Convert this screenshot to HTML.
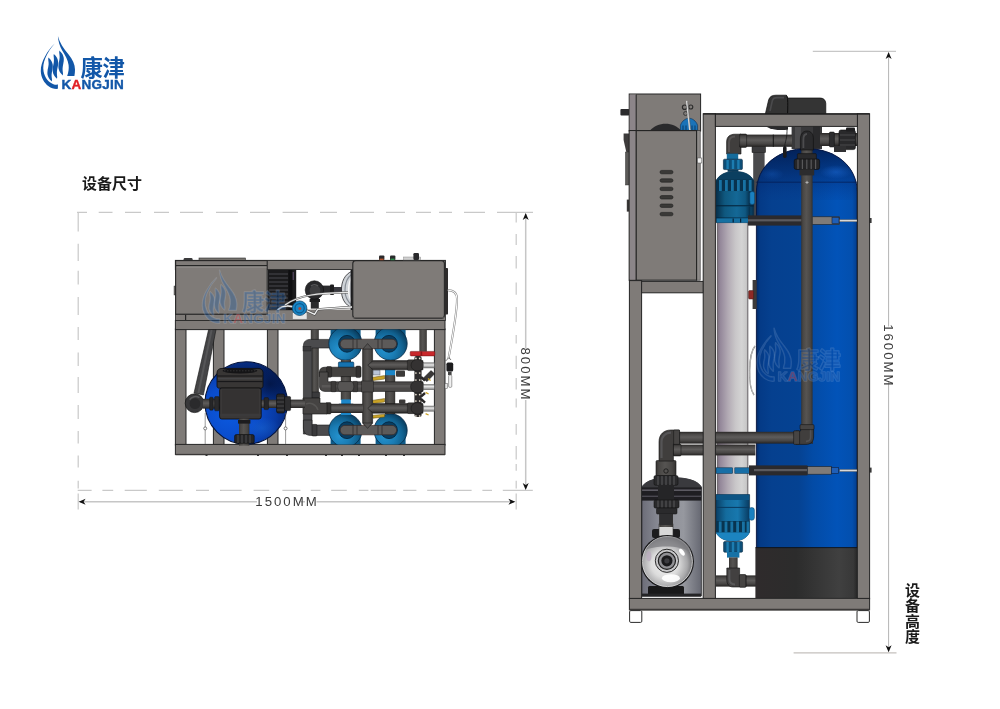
<!DOCTYPE html>
<html lang="zh-CN">
<head>
<meta charset="utf-8">
<title>康津 KANGJIN 设备尺寸</title>
<style>
html,body{margin:0;padding:0;background:#fff;}
body{width:1000px;height:709px;position:relative;overflow:hidden;font-family:"Liberation Sans","Noto Sans CJK SC",sans-serif;}
#stage{position:absolute;left:0;top:0;width:1000px;height:709px;display:block;will-change:transform;-webkit-font-smoothing:antialiased;}
.t{font-family:"Liberation Sans","Noto Sans CJK SC",sans-serif;}
.cjk{font-family:"Liberation Sans","Noto Sans CJK SC",sans-serif;font-weight:700;}
</style>
</head>
<body>
<svg id="stage" width="1000" height="709" viewBox="0 0 1000 709">
<defs>
<linearGradient id="gTank" x1="0" y1="0" x2="1" y2="0">
  <stop offset="0" stop-color="#032a66"/>
  <stop offset="0.035" stop-color="#043a86"/>
  <stop offset="0.15" stop-color="#05408f"/>
  <stop offset="0.42" stop-color="#054292"/>
  <stop offset="0.56" stop-color="#034ba6"/>
  <stop offset="0.8" stop-color="#0253b8"/>
  <stop offset="0.95" stop-color="#034fae"/>
  <stop offset="1" stop-color="#033c8a"/>
</linearGradient>
<linearGradient id="gTankDome" x1="0" y1="0" x2="0" y2="1">
  <stop offset="0" stop-color="#021848" stop-opacity="0.8"/>
  <stop offset="0.4" stop-color="#03225e" stop-opacity="0.55"/>
  <stop offset="0.75" stop-color="#042c78" stop-opacity="0.3"/>
  <stop offset="1" stop-color="#05388c" stop-opacity="0.12"/>
</linearGradient>
<linearGradient id="gTankBot" x1="0" y1="0" x2="1" y2="0">
  <stop offset="0" stop-color="#2f2b2c"/>
  <stop offset="0.4" stop-color="#2c2c2c"/>
  <stop offset="0.82" stop-color="#404040"/>
  <stop offset="0.96" stop-color="#383838"/>
  <stop offset="1" stop-color="#262626"/>
</linearGradient>
<linearGradient id="gPipeH" x1="0" y1="0" x2="0" y2="1">
  <stop offset="0" stop-color="#2a2827"/>
  <stop offset="0.2" stop-color="#4a4847"/>
  <stop offset="0.45" stop-color="#5e5c5b"/>
  <stop offset="0.75" stop-color="#484645"/>
  <stop offset="1" stop-color="#242221"/>
</linearGradient>
<linearGradient id="gPipeV" x1="0" y1="0" x2="1" y2="0">
  <stop offset="0" stop-color="#363432"/>
  <stop offset="0.15" stop-color="#484644"/>
  <stop offset="0.45" stop-color="#565452"/>
  <stop offset="0.8" stop-color="#484644"/>
  <stop offset="1" stop-color="#33312f"/>
</linearGradient>
<linearGradient id="gTube" x1="0" y1="0" x2="1" y2="0">
  <stop offset="0" stop-color="#7c707e"/>
  <stop offset="0.1" stop-color="#94889a"/>
  <stop offset="0.35" stop-color="#b2aab4"/>
  <stop offset="0.6" stop-color="#c9c7c9"/>
  <stop offset="0.8" stop-color="#d4d4d4"/>
  <stop offset="0.95" stop-color="#c8c8c8"/>
  <stop offset="1" stop-color="#989898"/>
</linearGradient>
<linearGradient id="gCap" x1="0" y1="0" x2="1" y2="0">
  <stop offset="0" stop-color="#07304c"/>
  <stop offset="0.25" stop-color="#0f587f"/>
  <stop offset="0.6" stop-color="#146896"/>
  <stop offset="0.85" stop-color="#0f5882"/>
  <stop offset="1" stop-color="#062c48"/>
</linearGradient>
<linearGradient id="gCapL" x1="0" y1="0" x2="1" y2="0">
  <stop offset="0" stop-color="#093e64"/>
  <stop offset="0.3" stop-color="#146c9e"/>
  <stop offset="0.65" stop-color="#1878ae"/>
  <stop offset="1" stop-color="#083a60"/>
</linearGradient>
<linearGradient id="gPumpTank" x1="0" y1="0" x2="1" y2="0">
  <stop offset="0" stop-color="#6c6d78"/>
  <stop offset="0.3" stop-color="#8a8c96"/>
  <stop offset="0.7" stop-color="#96989f"/>
  <stop offset="1" stop-color="#666872"/>
</linearGradient>
<radialGradient id="gChrome" cx="0.45" cy="0.55" r="0.6">
  <stop offset="0" stop-color="#f4f4f4"/>
  <stop offset="0.45" stop-color="#dcdcdc"/>
  <stop offset="0.75" stop-color="#a8a8aa"/>
  <stop offset="1" stop-color="#5a5a5e"/>
</radialGradient>
<radialGradient id="gSphere" cx="0.3" cy="0.62" r="0.8">
  <stop offset="0" stop-color="#0c5ae0"/>
  <stop offset="0.4" stop-color="#0a4ccc"/>
  <stop offset="0.7" stop-color="#083aa4"/>
  <stop offset="1" stop-color="#041e60"/>
</radialGradient>
<radialGradient id="gBlueCyl" cx="0.5" cy="0.5" r="0.6">
  <stop offset="0" stop-color="#2090d0"/>
  <stop offset="0.6" stop-color="#1a7cba"/>
  <stop offset="1" stop-color="#0a4a78"/>
</radialGradient>
<radialGradient id="gSpot" cx="0.5" cy="0.5" r="0.5">
  <stop offset="0" stop-color="#1a66d0" stop-opacity="0.55"/>
  <stop offset="1" stop-color="#1a66d0" stop-opacity="0"/>
</radialGradient>
<radialGradient id="gBlueDisc" cx="0.32" cy="0.68" r="0.8">
  <stop offset="0" stop-color="#2492ce"/>
  <stop offset="0.4" stop-color="#1a7cb4"/>
  <stop offset="0.7" stop-color="#11608e"/>
  <stop offset="1" stop-color="#063250"/>
</radialGradient>
<linearGradient id="gSilver" x1="0" y1="0" x2="0" y2="1">
  <stop offset="0" stop-color="#8a8a8a"/>
  <stop offset="0.4" stop-color="#e6e6e6"/>
  <stop offset="1" stop-color="#7a7a7a"/>
</linearGradient>
<linearGradient id="gBlack" x1="0" y1="0" x2="0" y2="1">
  <stop offset="0" stop-color="#3a3a3c"/>
  <stop offset="0.5" stop-color="#2a2a2c"/>
  <stop offset="1" stop-color="#1c1c1e"/>
</linearGradient>
<clipPath id="clipA"><rect x="170" y="329.6" width="290" height="114.8"/></clipPath>
<radialGradient id="gShade" cx="0.5" cy="0.5" r="0.5">
  <stop offset="0" stop-color="#02123c" stop-opacity="0.85"/>
  <stop offset="0.6" stop-color="#02123c" stop-opacity="0.45"/>
  <stop offset="1" stop-color="#02123c" stop-opacity="0"/>
</radialGradient>
<clipPath id="clipSph"><circle cx="246.2" cy="403" r="41"/></clipPath>
</defs>
<rect x="0" y="0" width="1000" height="709" fill="#ffffff"/>
<g id="logo">
<g fill="#1257a8">
<path d="M57.9 36C59.4 42.5 63.6 48.6 68.6 54.6C72.6 59.6 75 64.6 75 69.6C75 72 74.8 74 74.4 76H67.2C68.6 72 69 68.6 68.6 65C68 59.6 65 55 62.2 50.4C59.6 46 58.2 41 57.9 36Z"/>
<path d="M54.8 43.6C51 47.6 47.6 52.6 45.2 58.6C43.4 63 42.8 67.4 43.6 71.6C44.8 77.6 48.4 82.4 53.4 84.2C54.8 84.7 56.4 84.8 57.9 84.6V88.8C54.6 89.2 51.4 88.2 48.6 86.2C44 82.8 41 77.4 40.8 71.2C40.6 66 42.4 61 45 56.4C47.6 51.6 51 47.2 54.8 43.6Z"/>
<path d="M48.4 57.6L48.2 59.3L48.4 61.0L48.6 62.7L48.6 64.4L48.4 66.1L48.1 67.8L47.7 69.5L47.5 71.2L47.4 72.9L47.5 74.6L48.0 76.3L48.8 78.0L50.0 79.7L51.8 81.4L51.8 81.4L52.0 79.7L51.8 78.0L51.6 76.3L51.6 74.6L51.8 72.9L52.1 71.2L52.4 69.5L52.7 67.8L52.8 66.1L52.7 64.4L52.2 62.7L51.4 61.0L50.2 59.3L48.4 57.6Z"/>
<path d="M53.8 54.0L53.6 55.8L53.8 57.5L53.9 59.3L53.9 61.1L53.7 62.9L53.4 64.6L53.0 66.4L52.7 68.2L52.6 69.9L52.8 71.7L53.2 73.5L54.0 75.3L55.2 77.0L57.0 78.8L57.0 78.8L57.2 77.0L57.0 75.3L56.9 73.5L56.9 71.7L57.1 69.9L57.4 68.2L57.8 66.4L58.1 64.6L58.2 62.9L58.0 61.1L57.6 59.3L56.8 57.5L55.6 55.8L53.8 54.0Z"/>
<path d="M59.4 50.6L59.2 52.4L59.4 54.1L59.6 55.9L59.6 57.7L59.4 59.5L59.1 61.2L58.7 63.0L58.5 64.8L58.4 66.5L58.5 68.3L59.0 70.1L59.8 71.9L61.0 73.6L62.8 75.4L62.8 75.4L63.0 73.6L62.8 71.9L62.6 70.1L62.6 68.3L62.8 66.5L63.1 64.8L63.4 63.0L63.7 61.2L63.8 59.5L63.7 57.7L63.2 55.9L62.4 54.1L61.2 52.4L59.4 50.6Z"/>
</g>
<text class="cjk" x="80.4" y="75.6" font-size="22.4" fill="#1257a8" letter-spacing="-0.4">康津</text>
<text x="61.6" y="88.9" font-size="13.5" font-weight="700" fill="#1257a8" stroke="#1257a8" stroke-width="0.4" letter-spacing="0.25" font-family="'Liberation Sans','Noto Sans CJK SC',sans-serif">K<tspan fill="#e01f26" stroke="#e01f26">A</tspan>NGJIN</text>
</g>
<text class="cjk" x="82" y="189" font-size="15" fill="#1a1a1a">设备尺寸</text>
<text class="cjk" x="911.5" y="582.6" font-size="15" letter-spacing="0.5" fill="#1a1a1a" style="writing-mode:vertical-rl;text-orientation:upright">设备高度</text>
<g id="dims">
<path d="M77 212.3H87M98.7 212.3H112.5M125 212.3H141M154 212.3H169M180 212.3H203M216 212.3H238M250 212.3H270M282.6 212.3H308M320 212.3H337M350 212.3H374M386 212.3H405M416 212.3H431M439 212.3H452M464 212.3H485M497 212.3H533M77.7 490.4H91.6M102.4 490.4H113.2M124.7 490.4H146.8M158.8 490.4H182.8M196 490.4H209M220 490.4H241.6M253.6 490.4H269.2M282.4 490.4H300.4M310.8 490.4H320.4M331.2 490.4H346.8M358.8 490.4H368.4M370.8 490.4H396M403.2 490.4H416.4M427.2 490.4H445.2M453.6 490.4H471.6M482.4 490.4H492M502.8 490.4H532.8M78.2 212V231.6M78.2 243.8V261M78.2 270.8V284.4M78.2 297V315M78.2 327V340M78.2 352.5V366M78.2 377V393M78.2 405V419M78.2 431V443.6M78.2 455.6V467.6M78.2 480.7V488.6M78.2 493.4V509.4M516.2 212V222.6M516.2 234V245M516.2 256V268.6M516.2 282.6V294.8M516.2 307V322M516.2 335V343.5M516.2 355.7V369M516.2 378V389.5M516.2 398.6V407.6M516.2 424V434.7M516.2 446V459.5M516.2 464V470.8M516.2 480.7V488.6M516.2 493.4V509.4" fill="none" stroke="#c9c9c9" stroke-width="1.2"/>
<path d="M80 501.8H257M299 501.8H305M316.5 501.8H514" fill="none" stroke="#c6c6c6" stroke-width="1.5"/>
<path d="M525.7 214V348.5M525.7 400V488" fill="none" stroke="#c6c6c6" stroke-width="1.5"/>
<path d="M888.6 53V326.5M888.6 381V651" fill="none" stroke="#b4b4b4" stroke-width="1"/>
<path d="M812.8 51.3H896" fill="none" stroke="#b9b9b9" stroke-width="1"/>
<path d="M793.6 652.8H896.5" fill="none" stroke="#c4c0bd" stroke-width="1.3"/>
<polygon points="78.6,501.8 85.6,498.8 83.6,501.8 85.6,504.8" fill="#111"/>
<polygon points="515.4,501.8 508.4,498.8 510.4,501.8 508.4,504.8" fill="#111"/>
<polygon points="525.7,213.0 528.7,220.0 525.7,218.0 522.7,220.0" fill="#111"/>
<polygon points="525.7,490.0 528.7,483.0 525.7,485.0 522.7,483.0" fill="#111"/>
<polygon points="888.6,52.0 891.6,59.0 888.6,57.0 885.6,59.0" fill="#111"/>
<polygon points="888.6,652.3 891.6,645.3 888.6,647.3 885.6,645.3" fill="#111"/>
<text class="t" x="287" y="505.8" font-size="13.2" letter-spacing="2" text-anchor="middle" fill="#3c3c3c">1500MM</text>
<text class="t" transform="translate(521.3 374.5) rotate(90)" font-size="13.2" letter-spacing="2" text-anchor="middle" fill="#3c3c3c">800MM</text>
<text class="t" transform="translate(884.2 355.8) rotate(90)" font-size="13.2" letter-spacing="2" text-anchor="middle" fill="#3c3c3c">1600MM</text>
</g>
<g id="equipA">
<g fill="#7f7b78" stroke="#262626" stroke-width="1">
<rect x="175.4" y="329" width="10.6" height="116"/>
<rect x="213.4" y="329" width="10.6" height="116"/>
<rect x="267.4" y="329" width="10.6" height="116"/>
<rect x="434.4" y="329" width="10.6" height="116"/>
<rect x="175.4" y="320.4" width="269.6" height="9.2"/>
<rect x="175.4" y="444.4" width="269.6" height="10"/>
</g>
<path d="M175.4 454.6H445" stroke="#3a3837" stroke-width="1.4" fill="none"/>
<path d="M205.5 455.4h2M257 455.4h2M286 455.4h2M325 455.4h2M341 455.4h2M358 455.4h2M385 455.4h2M403 455.4h2" stroke="#333" stroke-width="1.4" fill="none"/>
<rect x="175.4" y="260.4" width="270" height="9.2" fill="#7f7b78" stroke="#262626" stroke-width="1"/>
<rect x="175.4" y="314" width="270" height="6.4" fill="#7f7b78" stroke="#262626" stroke-width="0.8"/>
<rect x="185" y="314.6" width="1.2" height="5.4" fill="#262626"/>
<rect x="296" y="270" width="56" height="40" fill="#ffffff"/>
<rect x="267.4" y="309.6" width="86" height="9.6" fill="#7f7b78"/>
<rect x="267.6" y="269.8" width="28.6" height="40.4" fill="#1b1b1d"/>
<path d="M269 274H288M269 278H288M269 282H288M269 286H288M269 290H288M269 294H288M269 298H288M269 302H288M269 306H288" stroke="#3a3a3e" stroke-width="1.4" fill="none"/>
<rect x="288.4" y="270" width="4" height="40" fill="#0f0f11"/>
<rect x="292.6" y="272" width="1.4" height="8" fill="#4a3f55"/>
<path d="M352.6 271C344.5 274 341.4 282 341.4 290C341.4 298 344.5 305 352.6 308Z" fill="#cfd3d8" stroke="#2a2a2c" stroke-width="0.8"/>
<path d="M352 274C346.5 278 345 284 345 290C345 296 346.5 301 352 305" fill="none" stroke="#8a9098" stroke-width="1.2"/>
<path d="M352.6 276C349.6 280 348.6 285 348.6 290C348.6 295 349.6 299 352.6 303" fill="none" stroke="#f4f4f4" stroke-width="1.4"/>
<rect x="350.6" y="270" width="2.6" height="40" fill="#1c1c1e"/>
<rect x="322" y="285.6" width="12" height="8.4" fill="#2b2b2d"/>
<rect x="330" y="284.6" width="4" height="10.4" rx="1" fill="#1d1d1f"/>
<rect x="334" y="287" width="8" height="6" fill="#3a3a40"/>
<rect x="310.8" y="296" width="8" height="12.6" fill="#2b2b2d"/>
<rect x="309.6" y="299" width="10.4" height="3" fill="#1f1f21"/>
<circle cx="314.4" cy="290" r="9.2" fill="#29292b" stroke="#0e0e0e" stroke-width="0.6"/>
<circle cx="315" cy="290.6" r="5.4" fill="#3e3e40"/>
<path d="M311 286C313 284 316 284 318 286" fill="none" stroke="#58585a" stroke-width="1.2"/>
<path d="M278 309.6C284 304 294 306.4 299.6 308.6" fill="none" stroke="#555" stroke-width="2.4" stroke-linecap="round"/>
<path d="M278 309.6C284 304 294 306.4 299.6 308.6" fill="none" stroke="#e9e9e9" stroke-width="1.4" stroke-linecap="round"/>
<path d="M285 305C300 294 320 293.4 348 292.4" fill="none" stroke="#555" stroke-width="2.2"/>
<path d="M285 305C300 294 320 293.4 348 292.4" fill="none" stroke="#e6e6e6" stroke-width="1.2"/>
<path d="M306 310.4L314.6 314.4L317.6 309.4L341 307.6L352 307" fill="none" stroke="#444" stroke-width="2.4" stroke-linejoin="round"/>
<path d="M306 310.4L314.6 314.4L317.6 309.4L341 307.6L352 307" fill="none" stroke="#f0f0f0" stroke-width="1.3" stroke-linejoin="round"/>
<rect x="292.6" y="312.6" width="14.4" height="6.6" fill="#e6e6e6" stroke="#777" stroke-width="0.5"/>
<circle cx="299.6" cy="308.2" r="7.3" fill="#1a86c6" stroke="#0a3b60" stroke-width="0.7"/>
<circle cx="299.6" cy="308.2" r="4.6" fill="none" stroke="#0c5a90" stroke-width="1.2"/>
<circle cx="299.8" cy="308.4" r="1.5" fill="#b0483c"/>
<rect x="183.6" y="258" width="9" height="2.6" rx="1.3" fill="#3a3a3c"/>
<rect x="199" y="258" width="46.4" height="2.6" fill="#77746f" stroke="#2a2a2a" stroke-width="0.6"/>
<rect x="174" y="286" width="2" height="9" fill="#6a6866" stroke="#333" stroke-width="0.4"/>
<rect x="175.6" y="260.6" width="91.6" height="53.6" fill="#7f7b78" stroke="#262626" stroke-width="1.1"/>
<path d="M176 265.6H267" stroke="#262626" stroke-width="1.4" fill="none"/>
<path d="M176.6 267H266.6" stroke="#a09d9a" stroke-width="0.8" fill="none"/>
<rect x="444.6" y="268" width="3.4" height="46.6" rx="0.8" fill="#2e2c2c"/>
<rect x="352.8" y="260.6" width="91.6" height="57.6" rx="3" fill="#7f7b78" stroke="#262626" stroke-width="1.1"/>
<path d="M353 317.6H444" stroke="#5a5856" stroke-width="1" fill="none"/>
<rect x="379" y="255.6" width="5.4" height="4.6" rx="1" fill="#2a2a2c"/>
<rect x="379.6" y="258.6" width="4" height="1.6" fill="#b5532c"/>
<rect x="390" y="255.6" width="5.4" height="4.6" rx="1" fill="#2a2a2c"/>
<rect x="390.6" y="258.6" width="4" height="1.6" fill="#2f8f4c"/>
<rect x="403.6" y="257" width="17" height="3" fill="#d0d0d0" stroke="#777" stroke-width="0.4"/>
<rect x="413.4" y="253" width="5.6" height="7" rx="1.2" fill="#2a2a2c"/>
<path d="M447.8 290.2C453 290 457 292.6 457 299C457 313 452 340 448.4 359" fill="none" stroke="#777" stroke-width="2"/>
<path d="M447.8 290.2C453 290 457 292.6 457 299C457 313 452 340 448.4 359" fill="none" stroke="#fafafa" stroke-width="1.1"/>
<path d="M445.6 361L449 357.6L451 360" fill="none" stroke="#444" stroke-width="0.7"/>
<rect x="446.4" y="362.6" width="6.8" height="9" rx="1.6" fill="#1c1c1e"/>
<rect x="448" y="371.6" width="3.6" height="3.4" fill="#444"/>
<rect x="448.6" y="375" width="3.2" height="12.4" rx="1.2" fill="#f0f0f0" stroke="#666" stroke-width="0.6"/>
<rect x="445" y="383.4" width="2.4" height="5" fill="#e8e8e8" stroke="#555" stroke-width="0.5"/>
<rect x="310.8" y="329.6" width="8" height="70" fill="url(#gPipeV)"/>
<rect x="309.8" y="392" width="10" height="6" rx="1" fill="#3a3a3c" stroke="#151515" stroke-width="0.5"/>
<path d="M303.4 434V346C303.4 341.6 306 339.4 310.4 339.4H329.6V348H312V434Z" fill="#4b4b4d" stroke="#1a1a1a" stroke-width="0.6"/>
<rect x="303" y="346.6" width="8" height="4.4" fill="#3a3a3c" stroke="#1a1a1a" stroke-width="0.4"/>
<path d="M303.4 420V428C303.4 432.4 306 435.4 310.4 435.4H330V425H312V420Z" fill="#4b4b4d" stroke="#1a1a1a" stroke-width="0.6"/>
<rect x="312" y="424.4" width="5" height="11.6" rx="1" fill="#3a3a3c" stroke="#151515" stroke-width="0.5"/>
<g clip-path="url(#clipA)">
<rect x="330.6" y="329.6" width="30" height="12" fill="#0e5a88"/>
<rect x="375.6" y="329.6" width="30" height="12" fill="#0e5a88"/>
<rect x="330.6" y="432" width="30" height="12.4" fill="#0e5a88"/>
<rect x="375.6" y="432" width="30" height="12.4" fill="#0e5a88"/>
<circle cx="345.4" cy="343.6" r="16.6" fill="url(#gBlueDisc)" stroke="#062a46" stroke-width="0.8"/>
<circle cx="390.6" cy="343.6" r="16.6" fill="url(#gBlueDisc)" stroke="#062a46" stroke-width="0.8"/>
<circle cx="345.4" cy="430.4" r="16.6" fill="url(#gBlueDisc)" stroke="#062a46" stroke-width="0.8"/>
<circle cx="390.6" cy="430.4" r="16.6" fill="url(#gBlueDisc)" stroke="#062a46" stroke-width="0.8"/>
<circle cx="347" cy="343.8" r="8.4" fill="#093e62" stroke="#052238" stroke-width="0.8"/>
<circle cx="389" cy="343.8" r="8.4" fill="#093e62" stroke="#052238" stroke-width="0.8"/>
<circle cx="347" cy="430.2" r="8.4" fill="#093e62" stroke="#052238" stroke-width="0.8"/>
<circle cx="389" cy="430.2" r="8.4" fill="#093e62" stroke="#052238" stroke-width="0.8"/>
</g>
<rect x="340.8" y="360" width="10.2" height="40" fill="url(#gPipeV)"/>
<rect x="338.4" y="362" width="15.4" height="7.6" rx="1" fill="#1673b0" stroke="#072c48" stroke-width="0.6"/>
<rect x="341.2" y="369.4" width="9.6" height="5.2" fill="#1c86c8"/>
<rect x="341.2" y="399.4" width="9.6" height="5" fill="#1c86c8"/>
<rect x="338.4" y="404" width="15.4" height="7.6" rx="1" fill="#1673b0" stroke="#072c48" stroke-width="0.6"/>
<rect x="340.8" y="411" width="10.2" height="4" fill="#1c86c8"/>
<rect x="385" y="360" width="10.2" height="54" fill="url(#gPipeV)"/>
<rect x="385.4" y="369.6" width="9.6" height="5.6" fill="#1c86c8"/>
<rect x="385.4" y="405" width="9.6" height="8" fill="#1c86c8"/>
<path d="M372 377.4L384.6 375.6L384.6 379L373 380.6Z" fill="#c9a227" stroke="#5a4a10" stroke-width="0.5"/>
<path d="M372 400.4L384.6 398.6L384.6 402L373 403.6Z" fill="#c9a227" stroke="#5a4a10" stroke-width="0.5"/>
<path d="M372 415.4L384.6 414.2L384.6 417L373 418.2Z" fill="#c9a227" stroke="#5a4a10" stroke-width="0.5"/>
<rect x="373" y="370" width="7" height="5" fill="#b9c4d6" stroke="#444" stroke-width="0.4"/>
<path d="M362.6 349L367.6 343.4L372.6 349V423L367.6 428.6L362.6 423Z" fill="url(#gPipeV)" stroke="#151515" stroke-width="0.6"/>
<path d="M329 376.6H319.4V372C319.4 369 321.4 367.2 325 367.2H361V376.6Z" fill="#444240" stroke="#151515" stroke-width="0.6"/>
<rect x="326.6" y="366.6" width="5" height="10.6" rx="1" fill="#333130" stroke="#151515" stroke-width="0.4"/>
<rect x="356" y="366" width="4.6" height="11.6" rx="1" fill="#333130" stroke="#151515" stroke-width="0.4"/>
<path d="M319.4 372V386C319.4 389.4 321.6 391.4 325 391.4H423V381.8H328V372Z" fill="#4c4a49" stroke="#151515" stroke-width="0.6"/>
<path d="M321.8 386.2H422" stroke="#666463" stroke-width="2.4" fill="none" opacity="0.55"/>
<rect x="331" y="381.4" width="5" height="10.4" rx="1" fill="#3c3a39" stroke="#151515" stroke-width="0.4"/>
<rect x="352.6" y="381.4" width="5" height="10.4" rx="1" fill="#3c3a39" stroke="#151515" stroke-width="0.4"/>
<path d="M339.6 381.6C337 384 337 389 339.6 391.4H352C354.4 389 354.4 384 352 381.6Z" fill="#575554" stroke="#1c1c1c" stroke-width="0.5"/>
<rect x="361.8" y="381" width="11.6" height="11" fill="#4a4847" stroke="#151515" stroke-width="0.4"/>
<rect x="396" y="370.4" width="9" height="6.4" rx="1" fill="#3c3a39"/>
<rect x="399" y="399.4" width="6.4" height="4.2" rx="1" fill="#3c3a39"/>
<path d="M367.8 365.2L373 360.6H423V369.8H373Z" fill="url(#gPipeH)" stroke="#151515" stroke-width="0.5"/>
<path d="M367.8 408.4L373 403.6H423V413.2H373Z" fill="url(#gPipeH)" stroke="#151515" stroke-width="0.5"/>
<rect x="319" y="403.8" width="44" height="9.2" fill="url(#gPipeH)"/>
<rect x="326" y="402.6" width="5" height="11.4" rx="1" fill="#333130" stroke="#151515" stroke-width="0.4"/>
<rect x="407.4" y="359.8" width="8.4" height="10.8" rx="1.4" fill="#3a3837" stroke="#151515" stroke-width="0.4"/>
<rect x="407.4" y="402.8" width="8.4" height="10.8" rx="1.4" fill="#3a3837" stroke="#151515" stroke-width="0.4"/>
<path d="M303 398H320V403H327V414H303Z" fill="#454342" stroke="#151515" stroke-width="0.6"/>
<path d="M306 404C310 402 316 404 318 410" fill="none" stroke="#5e5c5b" stroke-width="1.4" opacity="0.7"/>
<rect x="340.2" y="339.2" width="56.4" height="9.4" rx="4.6" fill="#5c5a59" stroke="#3c2a24" stroke-width="0.7"/>
<path d="M353 339.4V348.4M357 339.4V348.4M378 339.4V348.4M382 339.4V348.4" stroke="#262626" stroke-width="0.7" fill="none"/>
<rect x="340.2" y="425.4" width="56.4" height="9.4" rx="4.6" fill="#5c5a59" stroke="#3c2a24" stroke-width="0.7"/>
<path d="M353 425.6V434.6M357 425.6V434.6M378 425.6V434.6M382 425.6V434.6" stroke="#262626" stroke-width="0.7" fill="none"/>
<path d="M362.8 349L367.6 343.6L372.4 349Z" fill="#555352" stroke="#151515" stroke-width="0.5"/>
<path d="M362.8 423L367.6 428.4L372.4 423Z" fill="#555352" stroke="#151515" stroke-width="0.5"/>
<rect x="419.4" y="329.6" width="7.4" height="22" fill="url(#gPipeV)"/>
<rect x="410.2" y="351.4" width="24.6" height="4.5" rx="0.8" fill="#c8272b" stroke="#6a1012" stroke-width="0.5"/>
<rect x="420.6" y="351.4" width="1.6" height="4.5" fill="#8a1518"/>
<rect x="414.4" y="356" width="7.2" height="61" rx="2" fill="#2e2c2c"/>
<ellipse cx="417.4" cy="365.2" rx="6.4" ry="5.8" fill="#343232" stroke="#141414" stroke-width="0.5"/>
<ellipse cx="417.4" cy="386.8" rx="6.8" ry="6.2" fill="#343232" stroke="#141414" stroke-width="0.5"/>
<ellipse cx="417.4" cy="408.4" rx="6.4" ry="5.8" fill="#343232" stroke="#141414" stroke-width="0.5"/>
<path d="M423 378.4L431 370.6L434.6 373.8L427 381.6Z" fill="#3a3838" stroke="#111" stroke-width="0.5"/>
<path d="M421 377L425 380.6M421 396.6L425 393M421 399L425 402.6" stroke="#2a2828" stroke-width="2.4" fill="none"/>
<g fill="#ece4d4">
<circle cx="415.9" cy="358.4" r="0.85"/><circle cx="419.7" cy="358.4" r="0.85"/>
<circle cx="415.9" cy="373" r="0.85"/><circle cx="419.7" cy="373" r="0.85"/>
<circle cx="415.9" cy="380" r="0.85"/><circle cx="419.7" cy="380" r="0.85"/>
<circle cx="415.9" cy="394.6" r="0.85"/><circle cx="419.7" cy="394.6" r="0.85"/>
<circle cx="415.9" cy="401" r="0.85"/><circle cx="419.7" cy="401" r="0.85"/>
<circle cx="415.9" cy="416" r="0.85"/><circle cx="419.7" cy="416" r="0.85"/>
</g>
<rect x="423.4" y="362.8" width="11" height="5.2" fill="url(#gSilver)" stroke="#555" stroke-width="0.4"/>
<rect x="423.4" y="384.4" width="11" height="5.4" fill="url(#gSilver)" stroke="#555" stroke-width="0.4"/>
<rect x="423.4" y="406" width="11" height="5.2" fill="url(#gSilver)" stroke="#555" stroke-width="0.4"/>
<path d="M428 378.4L430.6 380.4M425.6 392.4L428.6 394M425.6 413.6L428.6 415" stroke="#c9a227" stroke-width="1.2" fill="none"/>
<path d="M208.6 329.6L216 329.6L203.4 395L194 393Z" fill="#444446" stroke="#161616" stroke-width="0.6"/>
<path d="M211.6 330L198.4 393" stroke="#5e5e60" stroke-width="2" fill="none" opacity="0.7"/>
<circle cx="194.6" cy="403.2" r="9.4" fill="#38383a" stroke="#121212" stroke-width="0.7"/>
<circle cx="195" cy="403.6" r="5.4" fill="#2a2a2c"/>
<path d="M189.6 399.6C191.6 396.6 196 395.6 199.4 397.6" fill="none" stroke="#626264" stroke-width="1.6" opacity="0.8"/>
<circle cx="246.2" cy="403" r="41.2" fill="url(#gSphere)" stroke="#05143c" stroke-width="1.1"/>
<g clip-path="url(#clipSph)"><ellipse cx="270" cy="384" rx="26" ry="24" fill="url(#gShade)"/><ellipse cx="240" cy="372" rx="30" ry="12" fill="url(#gShade)" opacity="0.7"/><ellipse cx="262" cy="428" rx="18" ry="11" fill="url(#gSpot)" opacity="0.9"/></g>
<rect x="203" y="398.8" width="18" height="9.8" fill="url(#gPipeH)"/>
<rect x="209.6" y="397.2" width="3.6" height="13" rx="1" fill="#262628" stroke="#0e0e0e" stroke-width="0.4"/>
<rect x="214.6" y="396.6" width="4.6" height="14.2" rx="1" fill="#2a2a2c" stroke="#0e0e0e" stroke-width="0.4"/>
<rect x="261" y="399.6" width="44" height="8.4" fill="url(#gPipeH)"/>
<rect x="264" y="397.6" width="4.6" height="12" rx="1" fill="#262628" stroke="#0e0e0e" stroke-width="0.4"/>
<rect x="276.6" y="394" width="8" height="19" rx="1.6" fill="#252527" stroke="#0c0c0c" stroke-width="0.6"/>
<path d="M277 398H284M277 402H284M277 406H284M277 410H284" stroke="#4a4a4c" stroke-width="1" fill="none"/>
<rect x="284.6" y="396.6" width="6" height="14" rx="1" fill="#2e2e30" stroke="#0c0c0c" stroke-width="0.5"/>
<path d="M217 386V372.6C217 370 219 368.4 222 368.4H258C261 368.4 263 370 263 372.6V386C263 387.4 262 388.2 260.6 388.2H219.4C218 388.2 217 387.4 217 386Z" fill="#383635" stroke="#0c0c0c" stroke-width="0.8"/>
<ellipse cx="240" cy="370.8" rx="17.4" ry="2.6" fill="#141416"/>
<path d="M224 370.8H256" stroke="#3a3a3c" stroke-width="0.8" stroke-dasharray="1.5 1.5" fill="none"/>
<path d="M217.4 376H262.6M217.4 381.6H262.6" stroke="#0e0e10" stroke-width="0.8" fill="none"/>
<path d="M218 378.6H262" stroke="#454547" stroke-width="1.6" fill="none"/>
<rect x="219.6" y="388" width="41.6" height="31" rx="2.2" fill="#3a3838" stroke="#0c0c0c" stroke-width="0.8"/>
<rect x="222" y="389.6" width="37" height="24" fill="#343232"/>
<path d="M220 415H261" stroke="#3c3c3e" stroke-width="1.2" fill="none"/>
<rect x="239" y="418.6" width="10.4" height="27" fill="url(#gPipeV)"/>
<rect x="238" y="420" width="12.4" height="3.6" fill="#1c1c1e"/>
<rect x="234.6" y="434.6" width="19.6" height="8.6" rx="1.6" fill="#252527" stroke="#0c0c0c" stroke-width="0.6"/>
<path d="M238 435V443M242 435V443M246 435V443M250 435V443" stroke="#4c4c4e" stroke-width="1" fill="none"/>
<path d="M205.2 413V444M285.6 413V444" stroke="#555" stroke-width="0.6" fill="none"/>
<circle cx="205.2" cy="428.4" r="1.5" fill="#fff" stroke="#333" stroke-width="0.6"/>
<circle cx="285.6" cy="428.4" r="1.5" fill="#fff" stroke="#333" stroke-width="0.6"/>
</g>
<g id="equipB">
<rect x="620.4" y="109" width="9" height="6.4" rx="1" fill="#2b2b2d"/>
<path d="M623.6 133.4H629.4V152.6H626.4L623.6 140Z" fill="#3e3c3c"/>
<rect x="625.4" y="152" width="4" height="33" fill="#5c5a58" stroke="#2a2a2a" stroke-width="0.4"/>
<rect x="626.8" y="199.6" width="2.6" height="12" fill="#3a3838"/>
<rect x="629.2" y="94" width="71.4" height="37" fill="#7f7b78" stroke="#262626" stroke-width="1"/>
<rect x="629.7" y="94.5" width="6.3" height="36" fill="#8c8589"/>
<path d="M636.2 94.5V130.5" stroke="#2a2a2a" stroke-width="1.1" fill="none"/>
<path d="M650 130.6C657 121.5 674 121.2 681 130.6Z" fill="#2a2a2c"/>
<path d="M680.4 130.4V125.5C681.5 121 686 118.2 689 118.2C692 118.2 696.5 121 697.6 125.5V130.4Z" fill="#1a73b8" stroke="#0a2f55" stroke-width="0.6"/>
<path d="M683 125.5V130M686 125.5V130M692 125.5V130M695 125.5V130" stroke="#083a66" stroke-width="1" fill="none"/>
<circle cx="684.6" cy="107.2" r="2.2" fill="none" stroke="#2c2c2c" stroke-width="1.2"/>
<circle cx="690.8" cy="107" r="2" fill="none" stroke="#2c2c2c" stroke-width="1.1"/>
<circle cx="685.6" cy="113.5" r="2" fill="none" stroke="#3a3a3a" stroke-width="1"/>
<path d="M686.8 101.5L689.8 129.5" stroke="#d6d6d6" stroke-width="1.7" fill="none" stroke-linecap="round"/>
<path d="M687.6 101.5L690.7 129.5" stroke="#555" stroke-width="0.5" fill="none"/>
<rect x="696.6" y="130.6" width="3.6" height="149.6" fill="#8f8c8a" stroke="#333" stroke-width="0.6"/>
<rect x="697.4" y="158" width="4.4" height="5" fill="#f2f2f2" stroke="#555" stroke-width="0.5"/>
<rect x="629.2" y="130.6" width="67.4" height="149.6" fill="#7f7b78" stroke="#222" stroke-width="1.1"/>
<rect x="629.8" y="131.2" width="6" height="148.4" fill="#8b8588"/>
<path d="M636.2 131V280" stroke="#222" stroke-width="1.2" fill="none"/>
<g fill="#3a3937" stroke="#1e1e1e" stroke-width="0.6">
<rect x="660" y="170.4" width="13" height="3.4" rx="1.7"/>
<rect x="660" y="178.8" width="13" height="3.4" rx="1.7"/>
<rect x="660" y="187.2" width="13" height="3.4" rx="1.7"/>
<rect x="660" y="195.6" width="13" height="3.4" rx="1.7"/>
<rect x="660" y="204" width="13" height="3.4" rx="1.7"/>
<rect x="660" y="212.4" width="13" height="3.4" rx="1.7"/>
</g>
<path d="M641.8 596V487C646 480.5 656 477.6 671.5 477.6C687 477.6 697.5 480.5 701.4 487V596Z" fill="url(#gPumpTank)" stroke="#2a2a2c" stroke-width="0.8"/>
<path d="M641.8 487C646 480.5 656 477.6 671.5 477.6C687 477.6 697.5 480.5 701.4 487V489H641.8Z" fill="#3a3a3e"/>
<rect x="641.8" y="487.4" width="59.6" height="13.2" fill="#1f1e22"/>
<rect x="641.8" y="489.4" width="59.6" height="1.6" fill="#5c5a62"/>
<rect x="641.8" y="495.6" width="59.6" height="1.4" fill="#4a4850"/>
<rect x="648" y="586" width="36" height="10" rx="1.5" fill="#19191a"/>
<rect x="642" y="593.6" width="59" height="3" fill="#242426"/>
<rect x="652" y="529" width="28" height="9" rx="2" fill="#1c1c1e"/>
<rect x="659" y="524" width="14" height="12" fill="#d8d8d8" stroke="#333" stroke-width="0.6"/>
<g transform="translate(0.9 1.2)">
<circle cx="666.5" cy="560.4" r="26.6" fill="#1a1a1c"/>
<circle cx="666.5" cy="560.4" r="25" fill="url(#gChrome)" stroke="#e8e8e8" stroke-width="0.8"/>
<path d="M644.5 549C650 538 660 535 668 535.2C680 535.6 688 542 690.4 551C680 544 655 543.5 644.5 549Z" fill="#7c7c80" opacity="0.75"/>
<ellipse cx="681" cy="551" rx="2" ry="4" transform="rotate(-35 681 551)" fill="#fff"/>
<ellipse cx="648" cy="555" rx="2.5" ry="5" fill="#b9a9bd" opacity="0.7"/>
<ellipse cx="670" cy="577" rx="9" ry="4" fill="#fff" opacity="0.9"/>
<circle cx="666" cy="559.6" r="11.6" fill="#c8c8ca" stroke="#2a2a2a" stroke-width="1"/>
<circle cx="666" cy="559.6" r="8.6" fill="#909094" stroke="#1e1e1e" stroke-width="1.2"/>
<circle cx="666" cy="559.6" r="5.6" fill="#1a1a1c"/>
<circle cx="666" cy="559.6" r="2.6" fill="#3c3c40"/>
</g>
<rect x="659.2" y="443" width="13.8" height="84" fill="url(#gPipeV)"/>
<rect x="656" y="460.6" width="20" height="15.4" rx="1" fill="url(#gPipeV)" stroke="#161616" stroke-width="0.6"/>
<circle cx="666" cy="471" r="2.2" fill="none" stroke="#141414" stroke-width="0.8"/>
<rect x="654" y="475.6" width="24" height="9.6" rx="1.5" fill="#2a2a2c" stroke="#111" stroke-width="0.6"/>
<path d="M658 476V485M662 476V485M666 476V485M670 476V485M674 476V485" stroke="#555558" stroke-width="1.1" fill="none"/>
<rect x="658" y="485" width="16" height="15" fill="#252527"/>
<rect x="654" y="500" width="25" height="8" rx="1.5" fill="#2a2a2c" stroke="#111" stroke-width="0.6"/>
<path d="M658 500.5V507.5M662 500.5V507.5M666 500.5V507.5M670 500.5V507.5M674 500.5V507.5" stroke="#555558" stroke-width="1.1" fill="none"/>
<rect x="656.5" y="508" width="20.5" height="6" rx="1" fill="#2a2a2c" stroke="#111" stroke-width="0.5"/>
<rect x="659.5" y="514" width="13" height="11" fill="#2e2e30"/>
<rect x="753.2" y="146" width="11.4" height="70" fill="#4a4a4c"/>
<rect x="752" y="146" width="13.6" height="6.6" fill="#3a3a3c" stroke="#1c1c1c" stroke-width="0.5"/>
<rect x="717.3" y="221" width="30.6" height="275" fill="url(#gTube)"/>
<path d="M717.3 221V496M747.9 221V496" stroke="#4c464c" stroke-width="0.7" fill="none"/>
<path d="M755 346C748.4 354 747.6 386 754 395" fill="none" stroke="#666" stroke-width="1.3"/><path d="M755 346C748.4 354 747.6 386 754 395" fill="none" stroke="#f4f4f4" stroke-width="0.6"/>
<path d="M726.6 154V142C726.6 136.6 730 134.2 735 134.2H741V154Z" fill="#403e3d" stroke="#111" stroke-width="0.6"/>
<path d="M729 152V142.5C729 138.6 731.5 136.6 735 136.6" fill="none" stroke="#5a5857" stroke-width="2" opacity="0.8"/>
<rect x="726.8" y="153.6" width="11.4" height="6" fill="#166c9c"/>
<rect x="723.4" y="159.2" width="19" height="10.4" rx="1.2" fill="#0d4f78" stroke="#06263f" stroke-width="0.6"/>
<path d="M727.6 160V169M733 160V169M738.4 160V169" stroke="#1c7cb0" stroke-width="2.4" fill="none"/>
<rect x="727.6" y="169.4" width="10.8" height="2.4" fill="#0a3c5c"/>
<path d="M716 222.6V181C719 174.5 726 171.4 735 171.4C744 171.4 751 174.5 753.8 181V218H750V222.6Z" fill="url(#gCap)" stroke="#06263f" stroke-width="0.6"/>
<path d="M716 181C719 174.5 726 171.4 735 171.4C744 171.4 751 174.5 753.8 181Z" fill="#0b3f60"/>
<rect x="716.3" y="179.6" width="37.4" height="11.6" fill="#08324e"/>
<path d="M720.4 180V191M726.4 180V191M732.4 180V191M738.4 180V191M744.4 180V191M750.2 180V191" stroke="#1872a4" stroke-width="2.8" fill="none"/>
<rect x="716.3" y="191.2" width="34" height="14" fill="url(#gCap)"/>
<path d="M716.3 205.8H753.7" stroke="#052238" stroke-width="1.3" fill="none"/>
<rect x="716.3" y="206.6" width="34" height="11" fill="url(#gCap)"/>
<path d="M716.3 218H750" stroke="#052238" stroke-width="0.9" fill="none"/>
<rect x="716.6" y="218.4" width="33.2" height="4.2" fill="#1670a2"/>
<path d="M733.2 218.4V222.6M740.6 218.4V222.6" stroke="#052238" stroke-width="1.2" fill="none"/>
<rect x="749.8" y="191.6" width="4.8" height="12.8" rx="2" fill="#1a80c0" stroke="#0a3f66" stroke-width="0.5"/>
<path d="M715.8 494.6H749.6V532C747 537.6 742 541 733 541C724 541 718.5 537.6 715.8 532Z" fill="url(#gCapL)" stroke="#06263f" stroke-width="0.6"/>
<path d="M716.2 494.8H749.2V500H716.2Z" fill="#0d5484"/>
<path d="M716.2 507.4H749.4" stroke="#0a3a60" stroke-width="1" fill="none"/>
<rect x="716.2" y="521" width="33.2" height="11.6" fill="#083450"/>
<path d="M720.2 521.4V532.4M726 521.4V532.4M731.8 521.4V532.4M737.6 521.4V532.4M743.4 521.4V532.4M748 521.4V532.4" stroke="#1872a4" stroke-width="2.8" fill="none"/>
<path d="M716 532.6C718.5 538 724 541.2 733 541.2C742 541.2 747 538 749.6 532.6Z" fill="#1c84c0"/>
<rect x="749" y="507.6" width="5.4" height="12.6" rx="2.4" fill="#1a80c0" stroke="#0a3f66" stroke-width="0.5"/>
<rect x="723.6" y="541.6" width="19" height="10.6" rx="1.2" fill="#0d4f78" stroke="#06263f" stroke-width="0.6"/>
<path d="M727.6 542V552M733 542V552M738.4 542V552" stroke="#1c7cb0" stroke-width="2.4" fill="none"/>
<rect x="727" y="552" width="12.4" height="5.6" fill="#1672a6"/>
<rect x="729" y="557.4" width="8.6" height="12" fill="url(#gPipeV)"/>
<rect x="716" y="575.4" width="40" height="11.2" fill="url(#gPipeH)"/>
<path d="M726.8 568H739.6V575H746V587H733C729 587 726.8 584 726.8 580Z" fill="#424040" stroke="#121212" stroke-width="0.6"/>
<path d="M729.4 570V579C729.4 582.4 731.4 584.4 735 584.4" fill="none" stroke="#5c5c5e" stroke-width="2" opacity="0.8"/>
<rect x="739.4" y="574.6" width="6.4" height="12.6" rx="1" fill="#464443" stroke="#121212" stroke-width="0.5"/>
<path d="M765.4 113.8L768.6 100C769.6 96.6 772 95.2 776 95.2H786.4L787.6 98H820C823.4 98 825.8 100 825.8 103.6V113.8Z" fill="#343434" stroke="#0e0e0e" stroke-width="0.7"/>
<path d="M786.4 95.4C787.8 97 788 100 787.6 113.6" fill="none" stroke="#0c0c0c" stroke-width="1"/>
<path d="M770 111L772.4 100.5C773 98.4 774.4 97.6 777 97.6H784" fill="none" stroke="#4a4a4c" stroke-width="1.6"/>
<path d="M766 126.4H788V129.6C781 130.8 772 130 766 126.4Z" fill="#2a2a2c"/>
<rect x="791.6" y="126.4" width="30.4" height="22.6" fill="#39393b"/>
<rect x="795" y="126.4" width="6" height="22" fill="#4c4c4e"/>
<rect x="813" y="126.4" width="7" height="22" fill="#2a2a2c"/>
<rect x="820" y="133" width="38" height="13" fill="url(#gPipeH)"/>
<rect x="829.4" y="132" width="5" height="15" rx="1" fill="#2c2c2e" stroke="#101010" stroke-width="0.5"/>
<rect x="839" y="130" width="16.4" height="19.6" rx="2" fill="#29292b" stroke="#0e0e0e" stroke-width="0.6"/>
<path d="M840 135H855M840 140H855M840 145H855" stroke="#4a4a4c" stroke-width="1.2" fill="none"/>
<rect x="846" y="127.6" width="9" height="4" rx="1" fill="#1e1e20"/>
<rect x="834" y="146" width="12" height="6" fill="#303032"/>
<rect x="739.6" y="134.6" width="52.4" height="12.2" fill="url(#gPipeH)"/>
<rect x="739.6" y="134" width="7" height="13.4" rx="1" fill="url(#gPipeH)" stroke="#121212" stroke-width="0.5"/>
<rect x="772.8" y="134.6" width="1" height="12.2" fill="#161616"/>
<path d="M756.4 548V192C756.4 166 778.6 148.6 806.8 148.6C835 148.6 857.2 166 857.2 192V548Z" fill="url(#gTank)"/>
<path d="M756.4 192C756.4 166 778.6 148.6 806.8 148.6C835 148.6 857.2 166 857.2 192V200H756.4Z" fill="url(#gTankDome)"/>
<ellipse cx="836" cy="172" rx="16" ry="7" fill="url(#gSpot)"/><ellipse cx="772" cy="174" rx="12" ry="6" fill="url(#gSpot)" opacity="0.5"/>
<path d="M755.8 182.2H857" stroke="#04174c" stroke-width="0.8" fill="none" opacity="0.85"/>
<path d="M756.4 548V192C756.4 166 778.6 148.6 806.8 148.6C835 148.6 857.2 166 857.2 192V548" fill="none" stroke="#05123c" stroke-width="0.9"/>
<rect x="755.4" y="547.6" width="102" height="50.4" fill="url(#gTankBot)"/>
<path d="M755.4 547.6H857.4" stroke="#0c0c0e" stroke-width="0.8" fill="none"/>
<rect x="752.6" y="280" width="4" height="29" fill="#3c3a3a"/>
<rect x="748.6" y="290.6" width="5" height="8.4" rx="1" fill="#8e2a26" stroke="#3a1a18" stroke-width="0.5"/>
<rect x="748" y="215.4" width="54" height="10.2" fill="#2b2a2d"/>
<rect x="748" y="219.2" width="54" height="2.2" fill="#5b5a5e"/>
<rect x="812" y="216.8" width="27.6" height="7.6" fill="#7f7b78" stroke="#222" stroke-width="0.6"/>
<rect x="832" y="217.6" width="7" height="6" fill="#1f5fb8" stroke="#10203c" stroke-width="0.6"/>
<rect x="839.6" y="219.6" width="17.6" height="2.2" fill="#d8d8d8" stroke="#444" stroke-width="0.4"/>
<rect x="868.6" y="218" width="3" height="5" fill="#3a3a3a"/>
<rect x="716" y="467.8" width="16.6" height="5.6" fill="#176ea6" stroke="#082c48" stroke-width="0.5"/>
<rect x="734.8" y="467.8" width="14.6" height="5.6" fill="#176ea6" stroke="#082c48" stroke-width="0.5"/>
<rect x="749" y="465.4" width="58.4" height="10" fill="#2b2a2d"/>
<rect x="754" y="469" width="53" height="2.2" fill="#5b5a5e"/>
<rect x="807.4" y="466.6" width="24" height="7.6" fill="#7f7b78" stroke="#222" stroke-width="0.6"/>
<rect x="831.4" y="467.4" width="7" height="6" fill="#1f5fb8" stroke="#10203c" stroke-width="0.6"/>
<rect x="839.6" y="469.4" width="17.6" height="2.2" fill="#d8d8d8" stroke="#444" stroke-width="0.4"/>
<rect x="868.6" y="467.6" width="3" height="5" fill="#3a3a3a"/>
<rect x="801.2" y="140" width="11.4" height="296" fill="url(#gPipeV)"/>
<path d="M800.4 150V139C800.4 134 803 131 807 131C811 131 813.4 134 813.4 139V150Z" fill="#2a2a2c" stroke="#0e0e0e" stroke-width="0.6"/>
<path d="M803.4 148V139.4C803.4 136 805 134 807 134" fill="none" stroke="#555557" stroke-width="1.8" opacity="0.8"/>
<rect x="797.4" y="153.6" width="19" height="6" rx="1" fill="#2a2a2c" stroke="#0e0e0e" stroke-width="0.5"/>
<rect x="794.2" y="159" width="25.4" height="10.4" rx="2" fill="#252527" stroke="#0c0c0c" stroke-width="0.6"/>
<path d="M798 159.6V169M802.4 159.6V169M806.8 159.6V169M811.2 159.6V169M815.6 159.6V169" stroke="#58585a" stroke-width="1.2" fill="none"/>
<rect x="799.6" y="169.4" width="14.6" height="6" fill="#2c2c2e"/>
<path d="M805.4 182.4H808.6M807 180.8V184" stroke="#cfcfcf" stroke-width="0.7" fill="none"/>
<path d="M787 128C787.4 138 785 142 784.6 147" fill="none" stroke="#1a1a1a" stroke-width="0.8"/>
<rect x="783" y="146" width="3.6" height="12" rx="1.8" fill="#1a1a1c"/>
<rect x="673" y="444.6" width="82.4" height="10.8" fill="url(#gPipeH)"/>
<rect x="673" y="444" width="8" height="12" rx="1" fill="url(#gPipeH)" stroke="#151515" stroke-width="0.5"/>
<rect x="679" y="431.8" width="134" height="11.8" fill="url(#gPipeH)"/>
<path d="M659 461V442C659 434 664 430 671 430H679.4V444H673.4V461Z" fill="#403e3d" stroke="#111" stroke-width="0.6"/>
<path d="M661.5 458V442C661.5 436.5 665.5 432.6 671 432.6" fill="none" stroke="#5a5a5c" stroke-width="2.2" opacity="0.8"/>
<rect x="673.6" y="430" width="6" height="14.4" rx="1" fill="#464443" stroke="#111" stroke-width="0.5"/>
<path d="M800.6 426H813.6V437C813.6 441.6 810.6 444.4 806 444.4H796V431H800.6Z" fill="#403e3d" stroke="#0e0e0e" stroke-width="0.6"/>
<path d="M810.6 428V437C810.6 439.8 808.6 441.4 806 441.4" fill="none" stroke="#5a5a5c" stroke-width="1.6" opacity="0.7"/>
<rect x="793.6" y="430.8" width="6" height="13.6" rx="1" fill="#464443" stroke="#0e0e0e" stroke-width="0.5"/>
<rect x="800" y="424.6" width="14" height="5" rx="1" fill="#464443" stroke="#0e0e0e" stroke-width="0.5"/>
<g fill="#7f7b78" stroke="#242424" stroke-width="1">
<rect x="641.4" y="281.4" width="62" height="11.4"/>
<rect x="629.4" y="280.6" width="12.2" height="318"/>
<rect x="703.2" y="113.8" width="12.2" height="485"/>
<rect x="857.4" y="113.8" width="12.2" height="485"/>
<rect x="715.4" y="114" width="142" height="12.4"/>
<rect x="629.4" y="598.4" width="240.2" height="11.4"/>
</g>
<path d="M703.2 113.8H869.6" stroke="#1c1c1c" stroke-width="1.2" fill="none"/>
<path d="M629.4 609.6H869.6" stroke="#3c3a39" stroke-width="1.6" fill="none"/>
<rect x="629.6" y="610.6" width="12.2" height="11.8" rx="1.2" fill="#fff" stroke="#2a2a2a" stroke-width="1"/>
<rect x="857" y="610.6" width="12.4" height="11.8" rx="1.2" fill="#fff" stroke="#2a2a2a" stroke-width="1"/>
</g>
<g id="wm">
<g transform="translate(161.7 234.3)">
<g fill="#1257a8" fill-opacity="0.3" stroke="#d4e0f6" stroke-opacity="0.17" stroke-width="1.5" stroke-linejoin="round" paint-order="stroke">
<path d="M57.9 36C59.4 42.5 63.6 48.6 68.6 54.6C72.6 59.6 75 64.6 75 69.6C75 72 74.8 74 74.4 76H67.2C68.6 72 69 68.6 68.6 65C68 59.6 65 55 62.2 50.4C59.6 46 58.2 41 57.9 36Z"/>
<path d="M54.8 43.6C51 47.6 47.6 52.6 45.2 58.6C43.4 63 42.8 67.4 43.6 71.6C44.8 77.6 48.4 82.4 53.4 84.2C54.8 84.7 56.4 84.8 57.9 84.6V88.8C54.6 89.2 51.4 88.2 48.6 86.2C44 82.8 41 77.4 40.8 71.2C40.6 66 42.4 61 45 56.4C47.6 51.6 51 47.2 54.8 43.6Z"/>
<path d="M48.4 57.6L48.2 59.3L48.4 61.0L48.6 62.7L48.6 64.4L48.4 66.1L48.1 67.8L47.7 69.5L47.5 71.2L47.4 72.9L47.5 74.6L48.0 76.3L48.8 78.0L50.0 79.7L51.8 81.4L51.8 81.4L52.0 79.7L51.8 78.0L51.6 76.3L51.6 74.6L51.8 72.9L52.1 71.2L52.4 69.5L52.7 67.8L52.8 66.1L52.7 64.4L52.2 62.7L51.4 61.0L50.2 59.3L48.4 57.6Z"/>
<path d="M53.8 54.0L53.6 55.8L53.8 57.5L53.9 59.3L53.9 61.1L53.7 62.9L53.4 64.6L53.0 66.4L52.7 68.2L52.6 69.9L52.8 71.7L53.2 73.5L54.0 75.3L55.2 77.0L57.0 78.8L57.0 78.8L57.2 77.0L57.0 75.3L56.9 73.5L56.9 71.7L57.1 69.9L57.4 68.2L57.8 66.4L58.1 64.6L58.2 62.9L58.0 61.1L57.6 59.3L56.8 57.5L55.6 55.8L53.8 54.0Z"/>
<path d="M59.4 50.6L59.2 52.4L59.4 54.1L59.6 55.9L59.6 57.7L59.4 59.5L59.1 61.2L58.7 63.0L58.5 64.8L58.4 66.5L58.5 68.3L59.0 70.1L59.8 71.9L61.0 73.6L62.8 75.4L62.8 75.4L63.0 73.6L62.8 71.9L62.6 70.1L62.6 68.3L62.8 66.5L63.1 64.8L63.4 63.0L63.7 61.2L63.8 59.5L63.7 57.7L63.2 55.9L62.4 54.1L61.2 52.4L59.4 50.6Z"/>
<text class="cjk" x="80.4" y="75.6" font-size="22.4" letter-spacing="-0.4">康津</text>
<text x="61.6" y="88.9" font-size="13.5" font-weight="700" letter-spacing="0.25" font-family="'Liberation Sans','Noto Sans CJK SC',sans-serif">K<tspan fill="#e01f26">A</tspan>NGJIN</text>
</g>
</g>
<g transform="translate(716.2 292.3)">
<g fill="#0a49a2" fill-opacity="0.3" stroke="#d4e0f6" stroke-opacity="0.17" stroke-width="1.5" stroke-linejoin="round" paint-order="stroke">
<path d="M57.9 36C59.4 42.5 63.6 48.6 68.6 54.6C72.6 59.6 75 64.6 75 69.6C75 72 74.8 74 74.4 76H67.2C68.6 72 69 68.6 68.6 65C68 59.6 65 55 62.2 50.4C59.6 46 58.2 41 57.9 36Z"/>
<path d="M54.8 43.6C51 47.6 47.6 52.6 45.2 58.6C43.4 63 42.8 67.4 43.6 71.6C44.8 77.6 48.4 82.4 53.4 84.2C54.8 84.7 56.4 84.8 57.9 84.6V88.8C54.6 89.2 51.4 88.2 48.6 86.2C44 82.8 41 77.4 40.8 71.2C40.6 66 42.4 61 45 56.4C47.6 51.6 51 47.2 54.8 43.6Z"/>
<path d="M48.4 57.6L48.2 59.3L48.4 61.0L48.6 62.7L48.6 64.4L48.4 66.1L48.1 67.8L47.7 69.5L47.5 71.2L47.4 72.9L47.5 74.6L48.0 76.3L48.8 78.0L50.0 79.7L51.8 81.4L51.8 81.4L52.0 79.7L51.8 78.0L51.6 76.3L51.6 74.6L51.8 72.9L52.1 71.2L52.4 69.5L52.7 67.8L52.8 66.1L52.7 64.4L52.2 62.7L51.4 61.0L50.2 59.3L48.4 57.6Z"/>
<path d="M53.8 54.0L53.6 55.8L53.8 57.5L53.9 59.3L53.9 61.1L53.7 62.9L53.4 64.6L53.0 66.4L52.7 68.2L52.6 69.9L52.8 71.7L53.2 73.5L54.0 75.3L55.2 77.0L57.0 78.8L57.0 78.8L57.2 77.0L57.0 75.3L56.9 73.5L56.9 71.7L57.1 69.9L57.4 68.2L57.8 66.4L58.1 64.6L58.2 62.9L58.0 61.1L57.6 59.3L56.8 57.5L55.6 55.8L53.8 54.0Z"/>
<path d="M59.4 50.6L59.2 52.4L59.4 54.1L59.6 55.9L59.6 57.7L59.4 59.5L59.1 61.2L58.7 63.0L58.5 64.8L58.4 66.5L58.5 68.3L59.0 70.1L59.8 71.9L61.0 73.6L62.8 75.4L62.8 75.4L63.0 73.6L62.8 71.9L62.6 70.1L62.6 68.3L62.8 66.5L63.1 64.8L63.4 63.0L63.7 61.2L63.8 59.5L63.7 57.7L63.2 55.9L62.4 54.1L61.2 52.4L59.4 50.6Z"/>
<text class="cjk" x="80.4" y="75.6" font-size="22.4" letter-spacing="-0.4">康津</text>
<text x="61.6" y="88.9" font-size="13.5" font-weight="700" letter-spacing="0.25" font-family="'Liberation Sans','Noto Sans CJK SC',sans-serif">K<tspan fill="#e01f26">A</tspan>NGJIN</text>
</g>
</g>
</g>
</svg>
</body>
</html>
